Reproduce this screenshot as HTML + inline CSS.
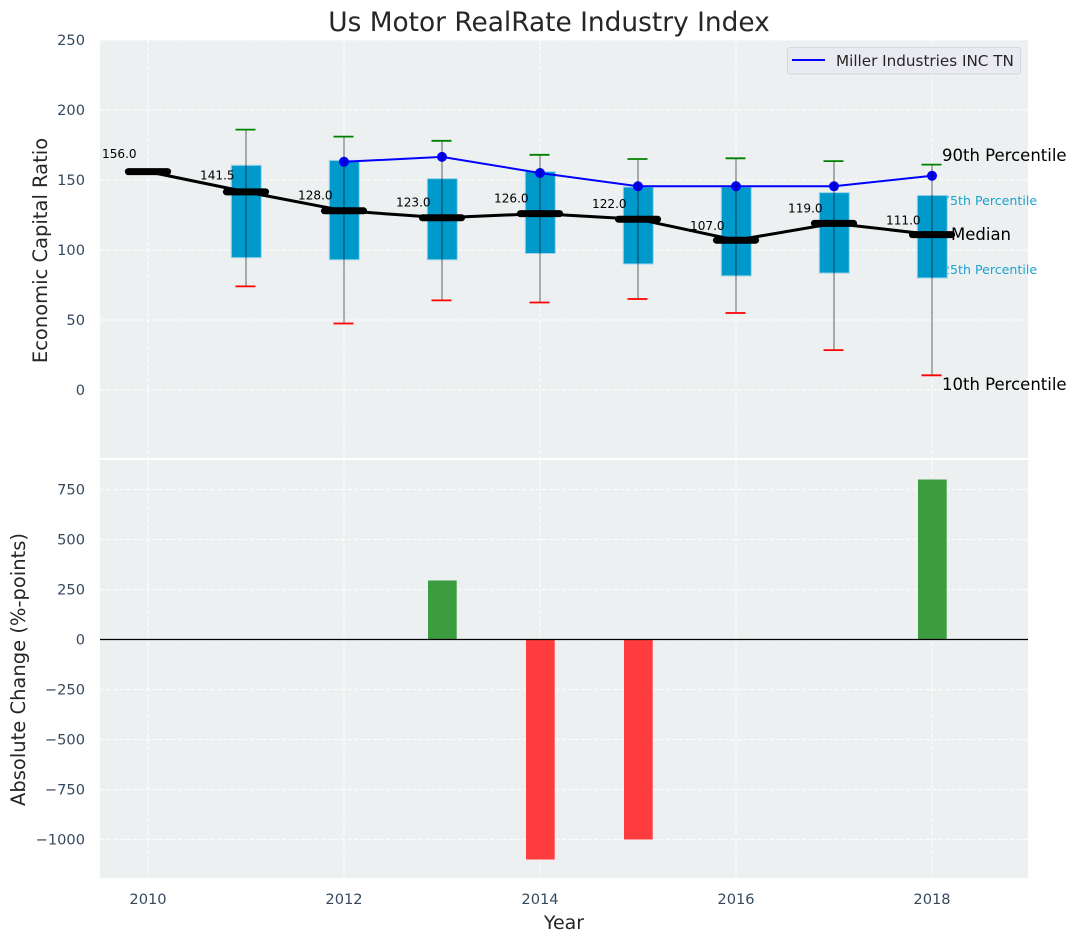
<!DOCTYPE html>
<html lang="en">
<head>
<meta charset="utf-8">
<title>Us Motor RealRate Industry Index</title>
<style>
html,body{margin:0;padding:0;background:#fff;}
svg{display:block;}
text{font-family:"DejaVu Sans","Liberation Sans",sans-serif;}
</style>
</head>
<body>
<svg id="chart" xmlns="http://www.w3.org/2000/svg" width="1077" height="942" viewBox="0 0 1077 942">
  <rect x="100" y="40" width="928" height="418" fill="#ecf0f1"/>
  <rect x="100" y="460" width="928" height="418" fill="#ecf0f1"/>
  <g id="grid"></g>
  <g id="bars"></g>
  <line x1="100" x2="1028" y1="639.5" y2="639.5" stroke="#000" stroke-width="1.2"/>
  <text x="942" y="205" font-size="12.6" fill="#1ba3d0">75th Percentile</text>
  <text x="942" y="274" font-size="12.6" fill="#1ba3d0">25th Percentile</text>
  <g id="boxes"></g>
  <g id="company"></g>
  <g id="whiskers"></g>
  <g id="medians"></g>
  <g id="ticks"></g>
  <text x="549" y="31" font-size="26.4" fill="#262626" text-anchor="middle">Us Motor RealRate Industry Index</text>
  <text transform="translate(47 250.5) rotate(-90)" font-size="19.5" fill="#262626" text-anchor="middle">Economic Capital Ratio</text>
  <text transform="translate(25 669.5) rotate(-90)" font-size="19.5" fill="#262626" text-anchor="middle">Absolute Change (%-points)</text>
  <text x="564" y="929" font-size="19" fill="#262626" text-anchor="middle">Year</text>
  <text x="942" y="161" font-size="16.5" fill="#000">90th Percentile</text>
  <text x="951" y="240" font-size="16.5" fill="#000">Median</text>
  <text x="942" y="390" font-size="16.5" fill="#000">10th Percentile</text>
  <g>
    <rect x="787.5" y="47.5" width="233" height="26.5" rx="3" fill="#eaeaf2" stroke="#d5d6da" stroke-width="1"/>
    <line x1="792" x2="825" y1="60" y2="60" stroke="#0000ff" stroke-width="2"/>
    <text x="836" y="66" font-size="15.2" fill="#262626">Miller Industries INC TN</text>
  </g>
</svg>
<script>
const years = [2010, 2011, 2012, 2013, 2014, 2015, 2016, 2017, 2018];
const medianValues = [156, 141.5, 128, 123, 126, 122, 107, 119, 111];
const p90Values = [null, 186, 181, 178, 168, 165, 165.5, 163.5, 161];
const p75Values = [null, 160.5, 164, 151, 156, 145, 145, 141, 139];
const p25Values = [null, 94.5, 93, 93, 97.5, 90, 81.5, 83.5, 80];
const p10Values = [null, 74, 47.5, 64, 62.5, 65, 55, 28.5, 10.5];
const companyValues = [null, null, 163, 166.5, 155, 145.5, 145.5, 145.5, 153];
const changeValues = [0, 0, 0, 295, -1100, -1000, 0, 0, 800];
const xTickLabels = [2010, 2012, 2014, 2016, 2018];
const yTopTickLabels = [0, 50, 100, 150, 200, 250];
const yBottomTickLabels = [-1000, -750, -500, -250, 0, 250, 500, 750];

const NS = 'http://www.w3.org/2000/svg';
const xScale = v => 148 + (v - 2010) * 98;
const yTop = v => 390 - v * 1.4;
const yBottom = v => 639.5 - v * 0.2;

function make(parentId, tag, attrs, text) {
  const el = document.createElementNS(NS, tag);
  for (const k in attrs) el.setAttribute(k, attrs[k]);
  if (text !== undefined) el.textContent = text;
  document.getElementById(parentId).appendChild(el);
  return el;
}
const gridStyle = {stroke: '#ffffff', 'stroke-width': 1.2, 'stroke-dasharray': '4.5 2', opacity: 0.8};
const tickFont = 14.6;

xTickLabels.forEach(t => {
  let el = make('grid', 'line', {x1: xScale(t), x2: xScale(t), y1: 40, y2: 458, ...gridStyle});
  
  
  el = make('grid', 'line', {x1: xScale(t), x2: xScale(t), y1: 460, y2: 878, ...gridStyle});
  
  
  el = make('ticks', 'text', {x: xScale(t), y: 904, 'font-size': tickFont, fill: '#34495e', 'text-anchor': 'middle'}, String(t));
  
  
});
yTopTickLabels.forEach(t => {
  let el = make('grid', 'line', {x1: 100, x2: 1028, y1: yTop(t), y2: yTop(t), ...gridStyle});
  
  
  el = make('ticks', 'text', {x: 85, y: yTop(t) + 5, 'font-size': tickFont, fill: '#34495e', 'text-anchor': 'end'}, String(t));
  
  
});
yBottomTickLabels.forEach(t => {
  let el = make('grid', 'line', {x1: 100, x2: 1028, y1: yBottom(t), y2: yBottom(t), ...gridStyle});
  
  
  const label = t < 0 ? '\u2212' + Math.abs(t) : String(t);
  el = make('ticks', 'text', {x: 85, y: yBottom(t) + 5, 'font-size': tickFont, fill: '#34495e', 'text-anchor': 'end'}, label);
  
  
});

years.forEach((yr, i) => {
  const v = changeValues[i];
  if (!v) return;
  const bar = make('bars', 'rect', {
    x: xScale(yr - 0.15) + 0.7, width: 0.3 * 98 - 0.7,
    y: Math.min(yBottom(v), yBottom(0)), height: Math.abs(yBottom(v) - yBottom(0)),
    fill: v > 0 ? '#3b9d3e' : '#ff3d3f'
  });
  
  
});

years.forEach((yr, i) => {
  if (p75Values[i] === null) return;
  const box = make('boxes', 'rect', {
    x: xScale(yr) - 14.7, width: 30,
    y: yTop(p75Values[i]), height: yTop(p25Values[i]) - yTop(p75Values[i]),
    fill: '#0099cc', stroke: '#9fd6ea', 'stroke-width': 1
  });
  
  

  let el = make('whiskers', 'line', {x1: xScale(yr), x2: xScale(yr), y1: yTop(p10Values[i]), y2: yTop(p90Values[i]), stroke: '#000', 'stroke-width': 1.4, opacity: 0.42});
  
  
  el = make('whiskers', 'line', {x1: xScale(yr) - 10.5, x2: xScale(yr) + 9.5, y1: yTop(p90Values[i]), y2: yTop(p90Values[i]), stroke: '#008000', 'stroke-width': 1.8});
  
  
  el = make('whiskers', 'line', {x1: xScale(yr) - 10.5, x2: xScale(yr) + 9.5, y1: yTop(p10Values[i]), y2: yTop(p10Values[i]), stroke: '#ff0000', 'stroke-width': 1.8});
  
  
});

const companyPoints = years.map((yr, i) => companyValues[i] === null ? null : [xScale(yr), yTop(companyValues[i])]).filter(Boolean);
const companyLine = make('company', 'polyline', {points: companyPoints.map(p => p.join(',')).join(' '), fill: 'none', stroke: '#0000ff', 'stroke-width': 2});


companyPoints.forEach(p => {
  const dot = make('company', 'circle', {cx: p[0], cy: p[1], r: 5, fill: '#0000ff'});
  
  
});

const medianLine = make('medians', 'polyline', {points: years.map((yr, i) => xScale(yr) + ',' + yTop(medianValues[i])).join(' '), fill: 'none', stroke: '#000', 'stroke-width': 3});


years.forEach((yr, i) => {
  const y = yTop(medianValues[i]);
  let el = make('medians', 'line', {x1: xScale(yr - 0.2), x2: xScale(yr + 0.2), y1: y, y2: y, stroke: '#000', 'stroke-width': 7, 'stroke-linecap': 'round'});
  
  
  el = make('medians', 'text', {x: xScale(yr) - 46, y: yTop(medianValues[i] * 1.05 + 5) + 4.5, 'font-size': 12.1, fill: '#000'}, medianValues[i].toFixed(1));
  
  
});
</script>
</body>
</html>
